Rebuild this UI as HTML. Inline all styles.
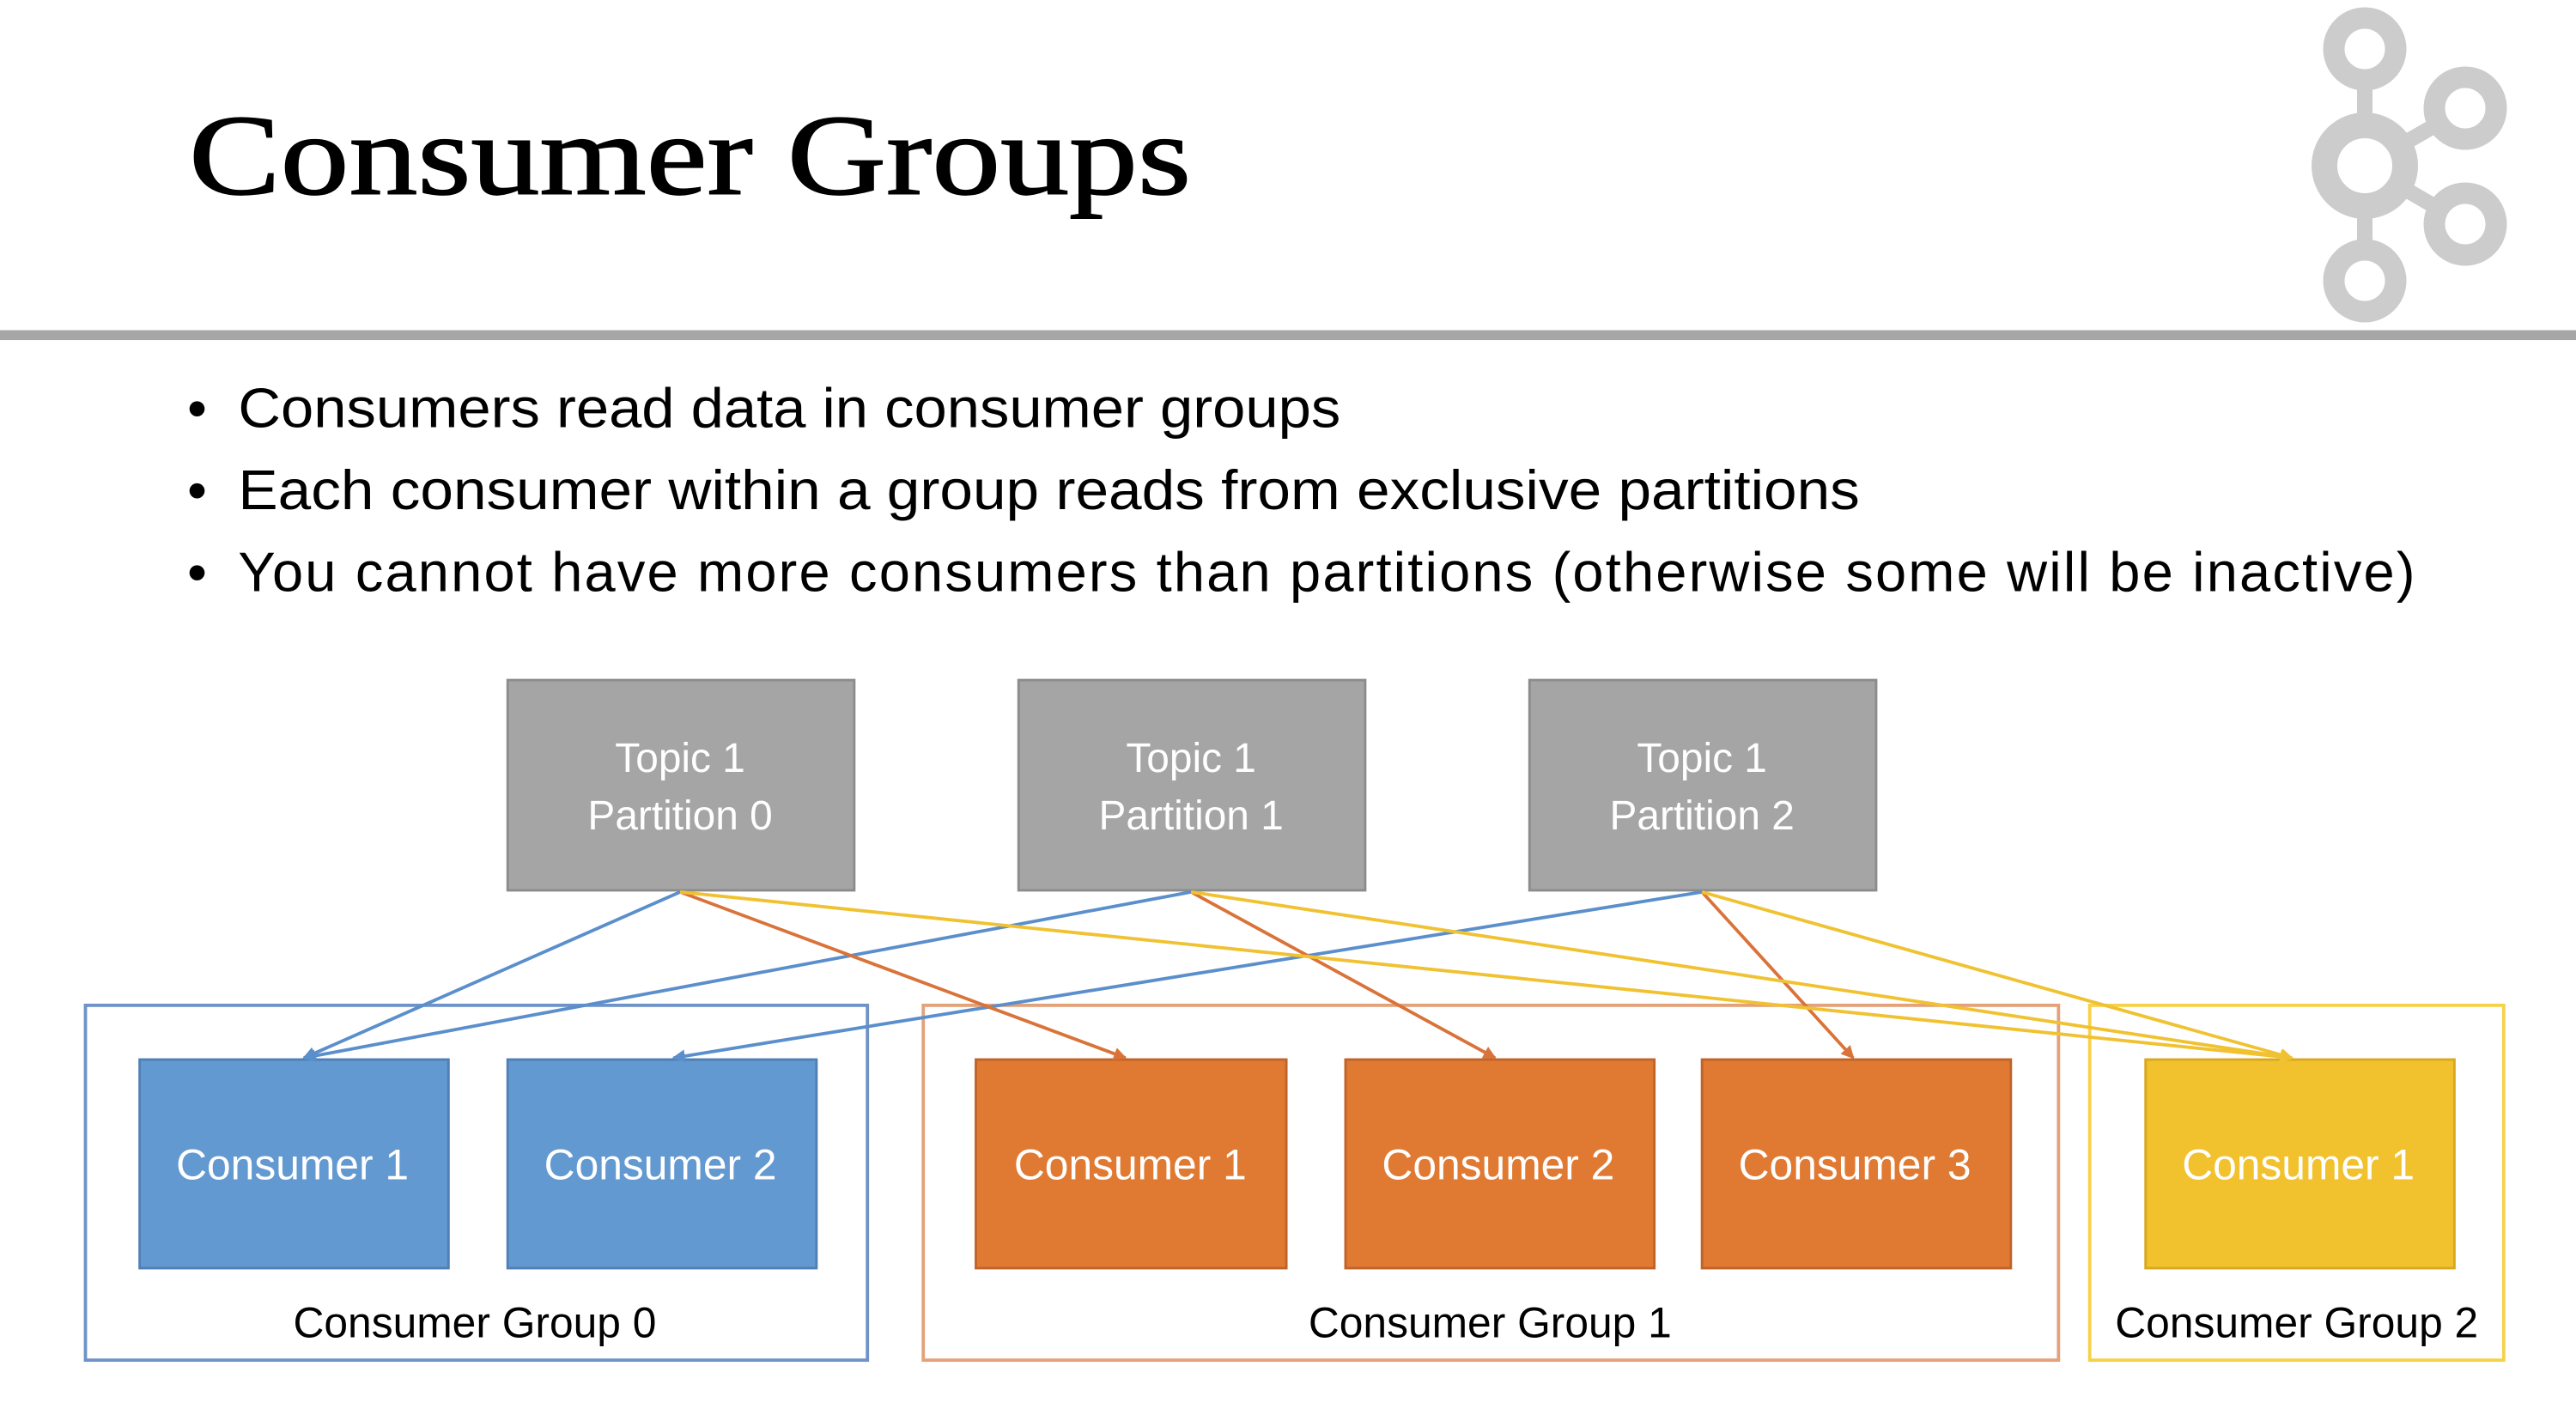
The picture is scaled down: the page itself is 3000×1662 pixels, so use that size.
<!DOCTYPE html>
<html><head><meta charset="utf-8"><style>
html,body{margin:0;padding:0;background:#fff;}
svg{display:block;}
</style></head><body>
<svg width="3000" height="1662" viewBox="0 0 1568 868.7" preserveAspectRatio="none" xmlns="http://www.w3.org/2000/svg">
<rect width="1568" height="868.7" fill="#fff"/>
<g transform="scale(0.52267)" fill="none" stroke="#cccccc">
  <line x1="2754" y1="57" x2="2754" y2="327" stroke-width="18"/>
  <line x1="2754" y1="193" x2="2871" y2="126" stroke-width="18"/>
  <line x1="2754" y1="193" x2="2871" y2="261" stroke-width="18"/>
  <circle cx="2754" cy="57" r="36" stroke-width="25" fill="#fff"/>
  <circle cx="2754" cy="327" r="36" stroke-width="25" fill="#fff"/>
  <circle cx="2871" cy="126" r="36" stroke-width="25" fill="#fff"/>
  <circle cx="2871" cy="261" r="36" stroke-width="25" fill="#fff"/>
  <circle cx="2754" cy="193" r="47" stroke-width="30" fill="#fff"/>
</g>
<text x="115" y="118" font-family="Liberation Serif, serif" font-size="70" fill="#000" stroke="#000" stroke-width="0.8" textLength="610" lengthAdjust="spacingAndGlyphs">Consumer Groups</text>
<rect x="0" y="201" width="1568" height="6" fill="#a6a6a6"/>
<g font-family="Liberation Sans, sans-serif" font-size="34" fill="#000">
  <text x="114" y="260">•</text><text x="145" y="260" textLength="671" lengthAdjust="spacingAndGlyphs">Consumers read data in consumer groups</text>
  <text x="114" y="310">•</text><text x="145" y="310" textLength="987" lengthAdjust="spacingAndGlyphs">Each consumer within a group reads from exclusive partitions</text>
  <text x="114" y="360">•</text><text x="145" y="360" textLength="1325">You cannot have more consumers than partitions (otherwise some will be inactive)</text>
</g>
<g stroke="#8c8c8c" stroke-width="1.5" fill="#a5a5a5">
  <rect x="309" y="414" width="211" height="128"/>
  <rect x="620" y="414" width="211" height="128"/>
  <rect x="931" y="414" width="211" height="128"/>
</g>
<g font-family="Liberation Sans, sans-serif" font-size="25" fill="#fff" text-anchor="middle">
  <text x="414" y="470">Topic 1</text><text x="414" y="505">Partition 0</text>
  <text x="725" y="470">Topic 1</text><text x="725" y="505">Partition 1</text>
  <text x="1036" y="470">Topic 1</text><text x="1036" y="505">Partition 2</text>
</g>
<g fill="none" stroke-width="2">
  <rect x="52" y="612" width="476" height="216" stroke="#6f93c8"/>
  <rect x="562" y="612" width="691" height="216" stroke="#e3a27a"/>
  <rect x="1272" y="612" width="252" height="216" stroke="#f5d24a"/>
</g>
<g stroke-width="1.5">
  <rect x="85" y="645" width="188" height="127" fill="#6399d1" stroke="#4f7fb5"/>
  <rect x="309" y="645" width="188" height="127" fill="#6399d1" stroke="#4f7fb5"/>
  <rect x="594" y="645" width="189" height="127" fill="#e07a33" stroke="#c0632a"/>
  <rect x="819" y="645" width="188" height="127" fill="#e07a33" stroke="#c0632a"/>
  <rect x="1036" y="645" width="188" height="127" fill="#e07a33" stroke="#c0632a"/>
  <rect x="1306" y="645" width="188" height="127" fill="#f2c12e" stroke="#d9a820"/>
</g>
<g font-family="Liberation Sans, sans-serif" font-size="26" fill="#fff" text-anchor="middle">
  <text x="178" y="718">Consumer 1</text>
  <text x="402" y="718">Consumer 2</text>
  <text x="688" y="718">Consumer 1</text>
  <text x="912" y="718">Consumer 2</text>
  <text x="1129" y="718">Consumer 3</text>
  <text x="1399" y="718">Consumer 1</text>
</g>
<g font-family="Liberation Sans, sans-serif" font-size="26" fill="#000" text-anchor="middle">
  <text x="289" y="814">Consumer Group 0</text>
  <text x="907" y="814">Consumer Group 1</text>
  <text x="1398" y="814">Consumer Group 2</text>
</g>
<defs>
  <marker id="mb" markerWidth="8" markerHeight="8" refX="7" refY="4" orient="auto" markerUnits="userSpaceOnUse"><path d="M0,0 L8,4 L0,8 z" fill="#5b8fcc"/></marker>
  <marker id="mo" markerWidth="8" markerHeight="8" refX="7" refY="4" orient="auto" markerUnits="userSpaceOnUse"><path d="M0,0 L8,4 L0,8 z" fill="#d9733a"/></marker>
  <marker id="my" markerWidth="8" markerHeight="8" refX="7" refY="4" orient="auto" markerUnits="userSpaceOnUse"><path d="M0,0 L8,4 L0,8 z" fill="#f0c232"/></marker>
</defs>
<g stroke-width="2" fill="none">
  <line x1="414" y1="543" x2="185" y2="644" stroke="#5b8fcc" marker-end="url(#mb)"/>
  <line x1="725" y1="543" x2="185" y2="644" stroke="#5b8fcc" marker-end="url(#mb)"/>
  <line x1="1036" y1="543" x2="410" y2="644" stroke="#5b8fcc" marker-end="url(#mb)"/>
  <line x1="414" y1="543" x2="685" y2="644" stroke="#d9733a" marker-end="url(#mo)"/>
  <line x1="725" y1="543" x2="910" y2="644" stroke="#d9733a" marker-end="url(#mo)"/>
  <line x1="1036" y1="543" x2="1128" y2="644" stroke="#d9733a" marker-end="url(#mo)"/>
  <line x1="414" y1="543" x2="1395" y2="644" stroke="#f0c232" marker-end="url(#my)"/>
  <line x1="725" y1="543" x2="1395" y2="644" stroke="#f0c232" marker-end="url(#my)"/>
  <line x1="1036" y1="543" x2="1395" y2="644" stroke="#f0c232" marker-end="url(#my)"/>
</g>
</svg>
</body></html>
